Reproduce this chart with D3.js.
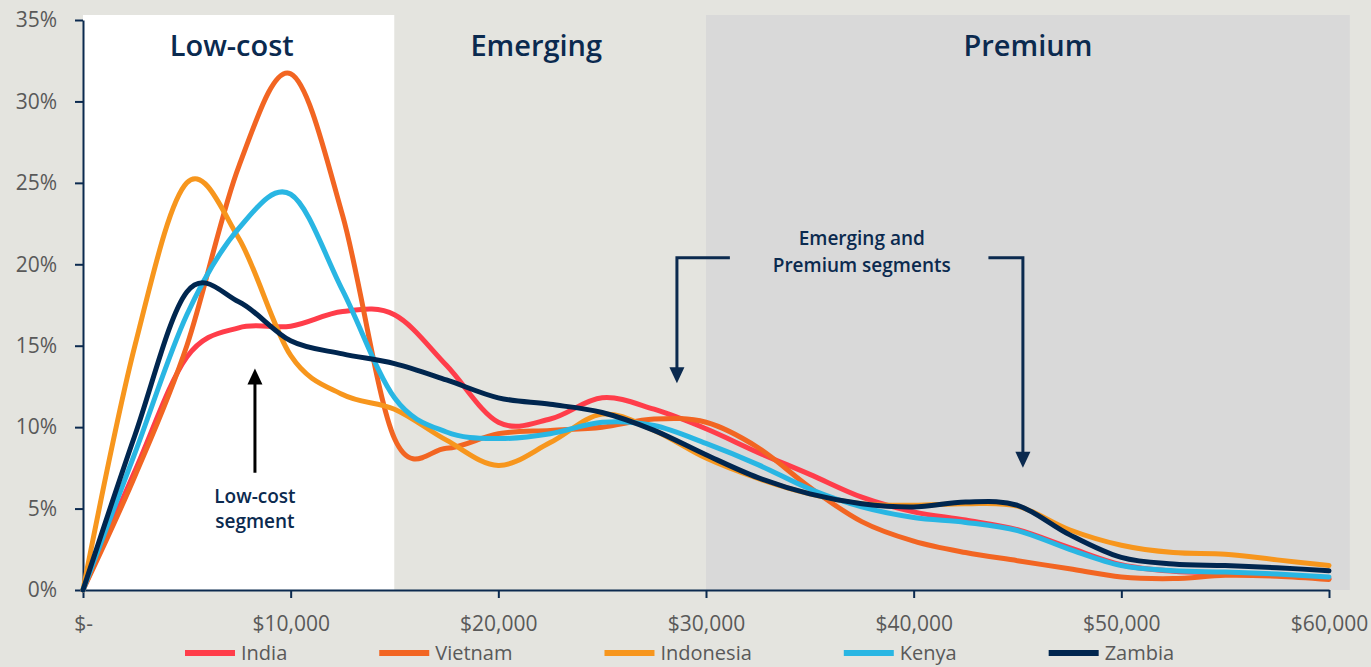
<!DOCTYPE html>
<html>
<head>
<meta charset="utf-8">
<script src="https://cdn.jsdelivr.net/npm/d3@7"></script>
<style>
  body { margin: 0; background: #e4e4df; }
  svg { display: block; font-family: "Open Sans", sans-serif; }
  .axis text { fill: #595959; font-size: 21px; font-family: "Open Sans", sans-serif; }
  .axis path, .axis line { stroke: #0b2a4f; stroke-width: 2; }
  .line { fill: none; stroke-width: 5; stroke-linejoin: round; stroke-linecap: round; }
  .segment-title { fill: #0b2a4f; font-size: 29px; font-weight: 600; text-anchor: middle; }
  .note text { fill: #0b2a4f; font-size: 19px; font-weight: 600; text-anchor: middle; }
  .legend text { fill: #595959; font-size: 20px; }
</style>
</head>
<body>
<div class="chart-container"></div>
<script>
// household income bins ($) and share of households (%) per country
var incomeBins = [0, 2500, 5000, 7500, 10000, 12500, 15000, 17500, 20000, 22500, 25000, 27500, 30000,
                  32500, 35000, 37500, 40000, 42500, 45000, 47500, 50000, 52500, 55000, 57500, 60000];
var india     = [0, 7.3, 14.3, 16.1, 16.2, 17.1, 16.9, 13.8, 10.3, 10.5, 11.8, 11.1, 9.9,
                 8.45, 7.1, 5.7, 4.8, 4.3, 3.7, 2.6, 1.55, 1.15, 1.05, 0.9, 0.7];
var vietnam   = [0, 7.0, 15.0, 26.0, 31.7, 23.0, 9.3, 8.7, 9.6, 9.8, 10.0, 10.5, 10.3,
                 8.75, 6.3, 4.2, 3.0, 2.3, 1.8, 1.3, 0.8, 0.7, 0.9, 0.85, 0.65];
var indonesia = [0, 15.0, 25.0, 21.6, 14.4, 12.0, 11.1, 9.2, 7.65, 9.05, 10.8, 9.8, 8.1,
                 6.85, 5.9, 5.3, 5.2, 5.3, 5.15, 3.7, 2.75, 2.3, 2.2, 1.85, 1.5];
var kenya     = [0, 8.4, 16.9, 22.2, 24.3, 18.4, 11.8, 9.7, 9.3, 9.6, 10.3, 10.1, 9.0,
                 7.7, 6.2, 5.1, 4.45, 4.15, 3.65, 2.5, 1.5, 1.18, 1.1, 0.98, 0.8];
var zambia    = [0, 9.5, 18.3, 17.7, 15.3, 14.5, 13.9, 12.9, 11.8, 11.4, 10.9, 9.8, 8.3,
                 6.9, 5.9, 5.3, 5.1, 5.4, 5.2, 3.4, 2.0, 1.6, 1.5, 1.37, 1.18];

var countries = ["India", "Vietnam", "Indonesia", "Kenya", "Zambia"];
var seriesValues = [india, vietnam, indonesia, kenya, zambia];

var segmentNames = ["Low-cost", "Emerging", "Premium"];
var segmentEdges = [0, 15000, 30000, 61000];

var xTicks = [0, 10000, 20000, 30000, 40000, 50000, 60000];
var yTicks = [0, 5, 10, 15, 20, 25, 30, 35];

var ccwidth = 1371, ccheight = 667;
var margin = {top: 20, right: 42, bottom: 77, left: 83},
    width = ccwidth - margin.left - margin.right,
    height = ccheight - margin.top - margin.bottom;

var navy = "#0b2a4f";
var color = d3.scaleOrdinal()
    .domain(countries)
    .range(["#ff3d4a", "#f26522", "#f7961d", "#29b6e3", "#00264f"]);
var segmentFill = d3.scaleOrdinal()
    .domain(segmentNames)
    .range(["#ffffff", "#e4e4df", "#d9d9d9"]);

var x = d3.scaleLinear().domain([0, 60000]).range([0, width]),
    y = d3.scaleLinear().domain([0, 35]).range([height, 0]);

var xAxis = d3.axisBottom(x)
    .tickValues(xTicks)
    .tickSize(8).tickSizeOuter(0).tickPadding(18)
    .tickFormat(function(d) { return d === 0 ? "$-" : d3.format("$,")(d); });
var yAxis = d3.axisLeft(y)
    .tickValues(yTicks)
    .tickSize(8).tickSizeOuter(0).tickPadding(18)
    .tickFormat(function(d) { return d + "%"; });

// excel-style smoothing
var line = d3.line()
    .x(function(d) { return x(d.income); })
    .y(function(d) { return y(d.share); })
    .curve(d3.curveCatmullRom.alpha(0));

var svg = d3.select(".chart-container").append("svg")
    .attr("width", ccwidth)
    .attr("height", ccheight);

svg.append("rect")
    .attr("width", ccwidth)
    .attr("height", ccheight)
    .attr("fill", "#e4e4df");

var focus = svg.append("g")
    .attr("transform", "translate(" + margin.left + "," + margin.top + ")");

// segment bands
var segments = segmentNames.map(function(name, i) {
  return {name: name, x0: segmentEdges[i], x1: segmentEdges[i + 1]};
});

focus.selectAll("rect.band")
    .data(segments)
  .enter().append("rect")
    .attr("class", "band")
    .attr("x", function(d) { return x(d.x0); })
    .attr("y", -5)
    .attr("width", function(d) { return x(d.x1) - x(d.x0); })
    .attr("height", height + 5)
    .attr("fill", function(d) { return segmentFill(d.name); });

focus.selectAll("text.segment-title")
    .data(segments)
  .enter().append("text")
    .attr("class", "segment-title")
    .attr("x", function(d, i) { return (x(d.x0) + x(d.x1)) / 2 - (i < 2 ? (i + 1) * 7 : 0); })
    .attr("y", 36)
    .text(function(d) { return d.name; });

// axes
focus.append("g")
    .attr("class", "x axis")
    .attr("transform", "translate(0," + height + ")")
    .call(xAxis);

focus.append("g")
    .attr("class", "y axis")
    .call(yAxis);

// country lines
var sources = countries.map(function(name, i) {
  return {
    name: name,
    values: incomeBins.map(function(b, j) { return {income: b, share: seriesValues[i][j]}; })
  };
});

focus.append("g").attr("class", "plot-area")
  .selectAll("path")
    .data(sources)
  .enter().append("path")
    .attr("class", "line")
    .attr("d", function(d) { return line(d.values); })
    .style("stroke", function(d) { return color(d.name); });

// annotations
var note = focus.append("g").attr("class", "note");

function arrowHead(px, py, dir, fill) {
  // dir = -1 points up, 1 points down
  note.append("path")
      .attr("d", "M" + px + "," + py + " l-7.5," + (-16 * dir) + " h15 z")
      .attr("fill", fill);
}

var lcX = x(8280);
note.append("line")
    .attr("x1", lcX).attr("x2", lcX)
    .attr("y1", y(7.2)).attr("y2", y(13.6) + 14)
    .attr("stroke", "#000").attr("stroke-width", 3);
arrowHead(lcX, y(13.6), -1, "#000");
note.append("text").attr("x", lcX).attr("y", y(7.2) + 30).text("Low-cost");
note.append("text").attr("x", lcX).attr("y", y(7.2) + 55).text("segment");

note.append("path")
    .attr("d", "M" + x(31150) + "," + y(20.4) + " H" + x(28600) + " V" + (y(12.7) - 14))
    .attr("fill", "none").attr("stroke", navy).attr("stroke-width", 3);
arrowHead(x(28600), y(12.7), 1, navy);

note.append("path")
    .attr("d", "M" + x(43600) + "," + y(20.4) + " H" + x(45260) + " V" + (y(7.5) - 14))
    .attr("fill", "none").attr("stroke", navy).attr("stroke-width", 3);
arrowHead(x(45260), y(7.5), 1, navy);

note.append("text").attr("x", x(37500)).attr("y", y(21.2)).text("Emerging and");
note.append("text").attr("x", x(37500)).attr("y", y(21.2) + 27).text("Premium segments");

// legend
var legend = svg.append("g")
    .attr("class", "legend")
    .attr("transform", "translate(185,653)");

var offset = 0;
countries.forEach(function(name) {
  var item = legend.append("g").attr("transform", "translate(" + offset + ",0)");
  item.append("line")
      .attr("x1", 0).attr("x2", 50)
      .attr("stroke", color(name))
      .attr("stroke-width", 6);
  var label = item.append("text")
      .attr("x", 56)
      .attr("dy", "0.35em")
      .text(name);
  offset += 56 + label.node().getComputedTextLength() + 92;
});
</script>
</body>
</html>
